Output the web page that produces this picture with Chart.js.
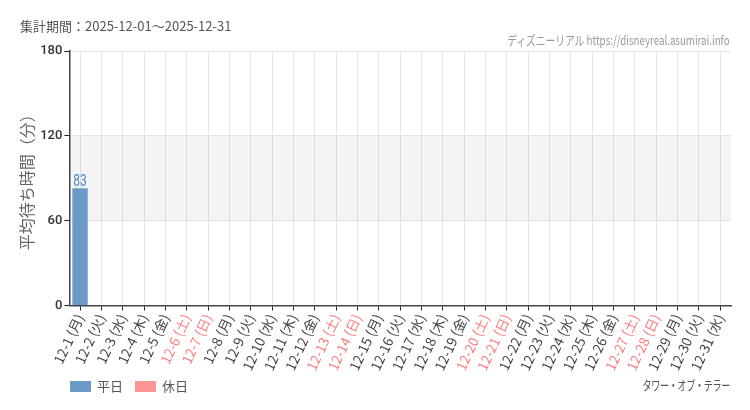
<!DOCTYPE html>
<html>
<head>
<meta charset="utf-8">
<script src="https://cdn.jsdelivr.net/npm/chart.js@4"></script>
<style>
  body { margin: 0; background: #fff; }
  #wrap { position: relative; width: 750px; height: 410px; font-family: "Noto Sans CJK JP", "Noto Sans", sans-serif; }
  #chart { position: absolute; left: 0; top: 0; }
  .txt { position: absolute; white-space: nowrap; line-height: 16px; }
  #period { left: 20px; top: 18px; font-size: 13px; color: #555; }
  #credit { right: 20px; top: 32px; font-size: 13px; color: #999; transform: scaleX(0.75); transform-origin: right center; }
  #attr { right: 20px; top: 377px; font-size: 13px; color: #555; transform: scaleX(0.7); transform-origin: right center; letter-spacing: -0.5px; }
  .leg { position: absolute; top: 378px; font-size: 13px; color: #555; line-height: 16px; }
  .leg i { display: inline-block; width: 21px; height: 11px; vertical-align: -1px; margin-right: 6px; }
</style>
</head>
<body>
<div id="wrap">
  <canvas id="chart" width="750" height="410"></canvas>
  <div class="txt" id="period">集計期間：2025-12-01～2025-12-31</div>
  <div class="txt" id="credit">ディズニーリアル https://disneyreal.asumirai.info</div>
  <div class="txt" id="attr">タワー・オブ・テラー</div>
  <div class="leg" id="leg1" style="left:70px"></div>
  <div class="leg" id="leg2" style="left:135px"></div>
</div>
<script>
// データ
const days = ['12-1', '12-2', '12-3', '12-4', '12-5', '12-6', '12-7', '12-8', '12-9', '12-10',
    '12-11', '12-12', '12-13', '12-14', '12-15', '12-16', '12-17', '12-18', '12-19', '12-20',
    '12-21', '12-22', '12-23', '12-24', '12-25', '12-26', '12-27', '12-28', '12-29', '12-30', '12-31'];
const weekdays = ['月', '火', '水', '木', '金', '土', '日', '月', '火', '水',
    '木', '金', '土', '日', '月', '火', '水', '木', '金', '土',
    '日', '月', '火', '水', '木', '金', '土', '日', '月', '火', '水'];
const holidayFlags = [0, 0, 0, 0, 0, 1, 1, 0, 0, 0, 0, 0, 1, 1, 0, 0, 0, 0, 0, 1, 1, 0, 0, 0, 0, 0, 1, 1, 0, 0, 0];
const weekdayWait = [83, null, null, null, null, null, null, null, null, null,
    null, null, null, null, null, null, null, null, null, null,
    null, null, null, null, null, null, null, null, null, null, null];
const holidayWait = [null, null, null, null, null, null, null, null, null, null,
    null, null, null, null, null, null, null, null, null, null,
    null, null, null, null, null, null, null, null, null, null, null];
const yTicks = [0, 60, 120, 180];

const WEEKDAY_COLOR = '#6a9ac7';
const HOLIDAY_COLOR = '#ff9494';

const labels = days.map((d, i) => d + ' (' + weekdays[i] + ')');

// 60〜120分の帯
const bandPlugin = {
    id: 'band',
    beforeDatasetsDraw(chart) {
        const { ctx, chartArea, scales } = chart;
        const y1 = scales.y.getPixelForValue(120);
        const y2 = scales.y.getPixelForValue(60);
        ctx.save();
        ctx.fillStyle = 'rgba(0,0,0,0.04)';
        ctx.fillRect(chartArea.left, y1, chartArea.right - chartArea.left, y2 - y1);
        ctx.restore();
    }
};

// 値ラベル
const valuePlugin = {
    id: 'values',
    afterDatasetsDraw(chart) {
        const ctx = chart.ctx;
        chart.data.datasets.forEach((ds, di) => {
            const meta = chart.getDatasetMeta(di);
            meta.data.forEach((bar, i) => {
                const v = ds.data[i];
                if (v == null) return;
                ctx.save();
                ctx.translate(bar.x, bar.y - 2);
                ctx.scale(0.75, 1);
                ctx.font = '16px Roboto';
                ctx.fillStyle = di === 0 ? '#4a86c2' : '#ff7070';
                ctx.textAlign = 'center';
                ctx.textBaseline = 'alphabetic';
                ctx.fillText(String(v), 0, 0);
                ctx.restore();
            });
        });
    }
};

new Chart(document.getElementById('chart'), {
    type: 'bar',
    data: {
        labels: labels,
        datasets: [{
            label: '平日',
            data: weekdayWait,
            backgroundColor: WEEKDAY_COLOR,
            barPercentage: 0.72,
            categoryPercentage: 1
        }, {
            label: '休日',
            data: holidayWait,
            backgroundColor: HOLIDAY_COLOR,
            barPercentage: 0.72,
            categoryPercentage: 1
        }]
    },
    options: {
        responsive: false,
        animation: false,
        layout: { padding: { left: 17, right: 19, top: 51, bottom: 36 } },
        plugins: {
            legend: { display: false },
            tooltip: { enabled: false }
        },
        scales: {
            x: {
                stacked: true,
                offset: true,
                grid: { offset: false, color: '#e6e6e6', tickColor: '#222', tickLength: 5 },
                border: { color: '#444', width: 1.5 },
                ticks: {
                    autoSkip: false,
                    minRotation: 65,
                    maxRotation: 65,
                    padding: 1,
                    font: { family: '"Noto Sans CJK JP"', size: 13.5 },
                    color: ctx => holidayFlags[ctx.index] ? '#ff7b7b' : '#444'
                }
            },
            y: {
                stacked: true,
                min: 0,
                max: 180,
                afterBuildTicks: axis => { axis.ticks = yTicks.map(v => ({ value: v })); },
                grid: { color: '#e6e6e6', tickColor: '#222', tickLength: 5 },
                border: { color: '#444', width: 1.5 },
                ticks: {
                    padding: 2,
                    font: { family: 'Roboto', size: 13, weight: '500' },
                    color: '#333'
                },
                title: {
                    display: true,
                    text: '平均待ち時間（分）',
                    color: '#666',
                    padding: { top: 0, bottom: 2 },
                    font: { family: '"Noto Sans CJK JP"', size: 16 }
                }
            }
        }
    },
    plugins: [bandPlugin, valuePlugin]
});

// 凡例
document.getElementById('leg1').innerHTML = '<i style="background:' + WEEKDAY_COLOR + '"></i>平日';
document.getElementById('leg2').innerHTML = '<i style="background:' + HOLIDAY_COLOR + '"></i>休日';
</script>
</body>
</html>
